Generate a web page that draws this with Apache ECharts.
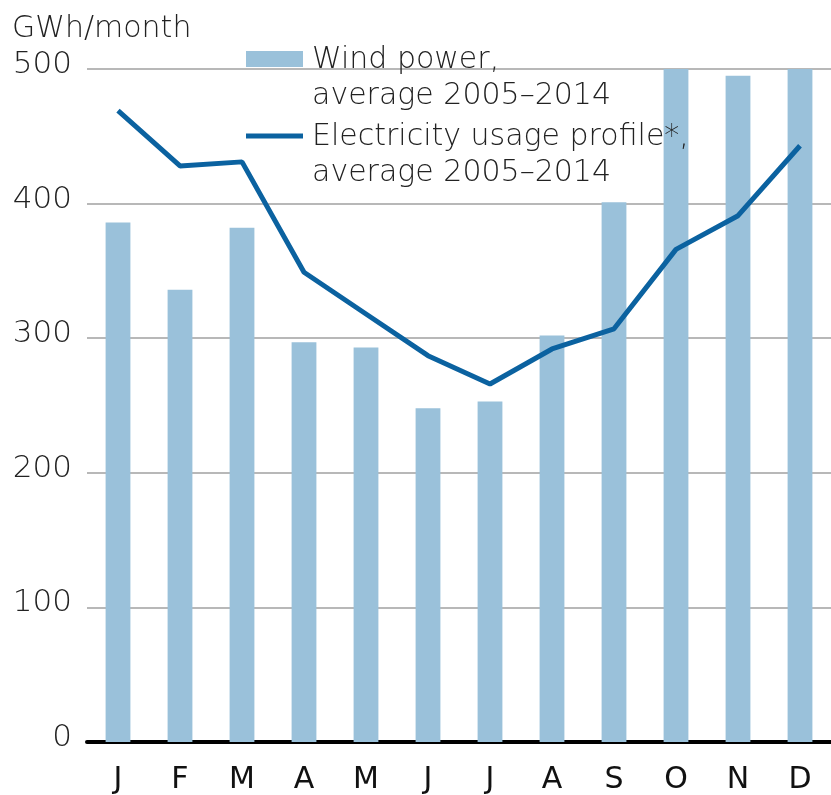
<!DOCTYPE html>
<html><head><meta charset="utf-8">
<script src="https://cdn.jsdelivr.net/npm/echarts@6/dist/echarts.min.js"></script>
<style>html,body{margin:0;padding:0;background:#fff}#c{width:831px;height:795px}</style>
</head><body><div id="c"></div>
<script>
const months = ['J','F','M','A','M','J','J','A','S','O','N','D'];
const windPower = [386, 336, 382, 297, 293, 248, 253, 302, 401, 500, 495, 500];
const usage = [469, 428, 431, 349, 318, 287, 266, 292, 307, 366, 391, 443];
const yTicks = {min: 0, max: 500, interval: 100};
const unitLabel = 'GWh/month';
const windName = 'Wind power,\naverage 2005–2014';
const usageName = 'Electricity usage profile*,\naverage 2005–2014';

const font = '"DejaVu Sans", sans-serif';
const txt = {fontFamily: font, fontSize: 30, fontWeight: 200, color: '#222', lineHeight: 36, padding: [0, 0, 0, 4]};
const chart = echarts.init(document.getElementById('c'));
chart.setOption({
  animation: false,
  title: {text: unitLabel, left: 12, top: 14, padding: 0,
    textStyle: {fontFamily: font, fontSize: 30, fontWeight: 200, color: '#222'}},
  legend: {
    orient: 'vertical', left: 246, top: 4, padding: 0,
    itemWidth: 57, itemHeight: 16, itemGap: -33,
    formatter: name => '{s|}\n' + name.split('\n').map(l => '{t|' + l + '}').join('\n'),
    textStyle: {fontFamily: font, fontSize: 30, fontWeight: 200, color: '#222', lineHeight: 36,
      rich: {s: {lineHeight: 38, fontSize: 10}, t: txt}},
    data: [{name: windName, icon: 'rect'}, {name: usageName, icon: 'path://M0,0H57V5H0Z'}]
  },
  grid: {left: 87, right: -14, top: 69, bottom: 50, containLabel: false},
  xAxis: {
    type: 'category', data: months, boundaryGap: true,
    axisLine: {lineStyle: {color: '#000', width: 4}},
    axisTick: {show: false},
    axisLabel: {fontFamily: font, fontSize: 30, fontWeight: 'normal', color: '#111', margin: 23}
  },
  yAxis: {
    type: 'value', min: yTicks.min, max: yTicks.max, interval: yTicks.interval,
    axisLine: {show: false}, axisTick: {show: false},
    axisLabel: {margin: 15, formatter: v => '{v|' + v + '}',
      rich: {v: {fontFamily: font, fontSize: 31, fontWeight: 200, color: '#222', padding: [0, 0, 8, 0]}}},
    splitLine: {lineStyle: {color: '#a0a0a0', width: 1.5}}
  },
  series: [
    {name: windName, type: 'bar', data: windPower, barWidth: '40%', itemStyle: {color: '#9ac1da'}},
    {name: usageName, type: 'line', data: usage, symbol: 'none', lineStyle: {color: '#0b62a0', width: 5}, itemStyle: {color: '#0b62a0'}, z: 5}
  ]
});
</script></body></html>
